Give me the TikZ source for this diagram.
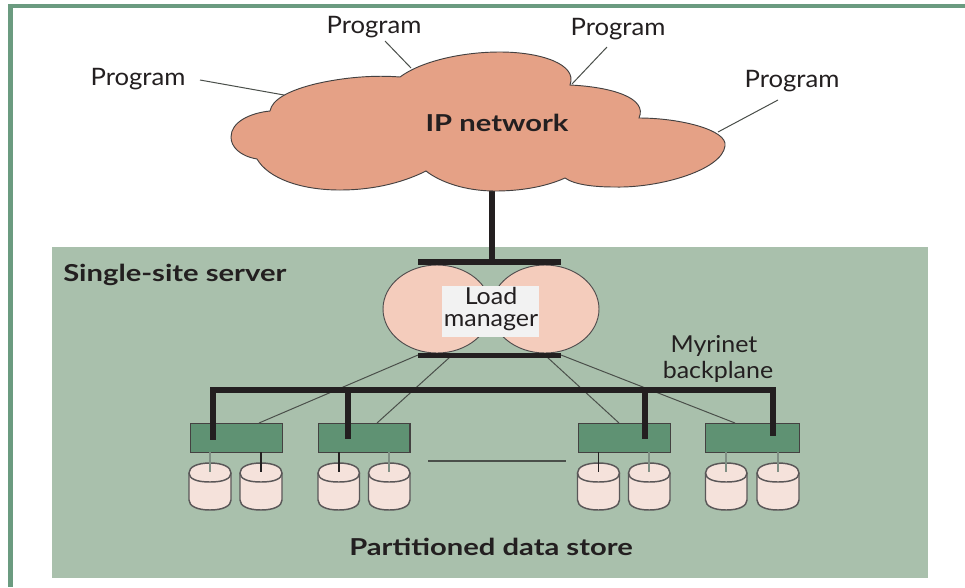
\documentclass[tikz,border=0pt]{standalone}
\usepackage{fontspec}
\setmainfont{Lato}
\newfontfamily\lblfont[FakeStretch=1.07]{Lato}
\newfontfamily\boldfont[FakeStretch=1.25]{Lato}
\definecolor{panelc}{HTML}{A9C0AC}
\definecolor{cloudc}{HTML}{E5A186}
\definecolor{boxc}{HTML}{5F9273}
\definecolor{lobec}{HTML}{F4CCBC}
\definecolor{cylc}{HTML}{F5E2DB}
\definecolor{framec}{HTML}{6B9B80}
\definecolor{inkc}{HTML}{231F20}
\definecolor{thinc}{HTML}{4A4F4A}
\definecolor{stemg}{HTML}{7F8F84}
\newcommand{\cylat}[4]{% left, right, stem colour, name
  \coordinate (#4top) at ({(#1+#2)/2},472);
  \filldraw[cylstyle] (#1,473) -- (#1,500) .. controls (#1,506) and ({#1+8},510) .. ({(#1+#2)/2},510)
    .. controls ({#2-8},510) and (#2,506) .. (#2,500) -- (#2,473)
    .. controls (#2,467) and ({#2-8},463) .. ({(#1+#2)/2},463)
    .. controls ({#1+8},463) and (#1,467) .. (#1,473) -- cycle;
  \draw[cylstyle,fill=none] (#1,473) .. controls (#1,479) and ({#1+8},482) .. ({(#1+#2)/2},482)
    .. controls ({#2-8},482) and (#2,479) .. (#2,473);
  \coordinate (#4up) at ({(#1+#2)/2},452);
  \draw[#3,line width=1.2pt] (#4up) -- (#4top);
}
\tikzset{
  x=0.75pt,y=-0.75pt,
  lbl/.style={font=\fontsize{17.5}{19}\selectfont\lblfont,text=inkc,inner sep=0pt},
  plbl/.style={font=\fontsize{18}{19}\selectfont\lblfont,text=inkc,inner sep=0pt},
  boldlbl/.style={font=\fontsize{17.5}{19}\selectfont\boldfont\bfseries,text=inkc,inner sep=0pt},
  thinline/.style={draw=thinc,line width=0.75pt},
  bar/.style={draw=inkc,line width=4.4pt},
  drop/.style={draw=inkc,line width=4.4pt},
  store/.style={draw=inkc!85,fill=boxc,line width=1pt,minimum height=21.75pt,inner sep=0pt,anchor=north west},
  lobe/.style={draw=inkc!80,fill=lobec,line width=0.7pt},
  cylstyle/.style={draw=inkc!75,fill=cylc,line width=1.1pt},
}
\begin{document}
\begin{tikzpicture}
\useasboundingbox (0,0) rectangle (965,587);
\fill[white] (0,0) rectangle (965,587);
% frame
\fill[framec] (8,4) rectangle (965,8);
\fill[framec] (8,4) rectangle (13,587);
% panel
\fill[panelc] (52,247) rectangle (928,578);
% labels
\node[plbl] (p1) at (138,79) {Program};
\node[plbl] (p2) at (374,27) {Program};
\node[plbl] (p3) at (618,29) {Program};
\node[plbl] (p4) at (792,81) {Program};
\coordinate (p1a) at (200,80); \coordinate (p1b) at (284,95);
\coordinate (p2a) at (385,41); \coordinate (p2b) at (411,68);
\coordinate (p3a) at (607,47); \coordinate (p3b) at (572,84);
\coordinate (p4a) at (778,100); \coordinate (p4b) at (718,132);
\draw[thinline] (p1a) -- (p1b);
\draw[thinline] (p2a) -- (p2b);
\draw[thinline] (p3a) -- (p3b);
\draw[thinline] (p4a) -- (p4b);
% vertical from cloud to top bar
\coordinate (cloudbase) at (492,188);
\coordinate (topmid) at (492,262);
\draw[drop] (cloudbase) -- (topmid);
% cloud
\filldraw[draw=inkc!85,fill=cloudc,line width=0.7pt]
  (270,111) .. controls (272,100) and (287,91) .. (315,84)
  .. controls (345,77) and (375,75) .. (400,77)
  .. controls (420,62) and (460,52) .. (500,52)
  .. controls (540,52) and (578,64) .. (570,85)
  .. controls (612,87) and (648,98) .. (639,118)
  .. controls (680,118) and (728,130) .. (725,146)
  .. controls (722,170) and (660,188) .. (615,187)
  .. controls (595,187) and (575,185) .. (565,178)
  .. controls (545,187) and (520,191) .. (495,191)
  .. controls (465,191) and (440,182) .. (426,171)
  .. controls (400,184) and (370,190) .. (340,190)
  .. controls (300,190) and (268,178) .. (257,159)
  .. controls (240,156) and (231,147) .. (231,137)
  .. controls (231,122) and (250,113) .. (270,111) -- cycle;
\node[boldlbl] (ip) at (497,122.5) {IP network};
\node[boldlbl,anchor=west] (site) at (63,274.5) {Single-site server};
% thin lines load manager to stores
\node[store,minimum width=69pt] (b1) at (190,423) {};
\node[store,minimum width=68.5pt] (b2) at (318,423) {};
\node[store,minimum width=69pt] (b3) at (578,423) {};
\node[store,minimum width=70.5pt] (b4) at (705,423) {};
\coordinate (bL) at (418,355); \coordinate (bLi) at (450,357);
\coordinate (bRi) at (547,357); \coordinate (bR) at (561,355);
\coordinate (t1) at (259,423); \coordinate (t2) at (377,423);
\coordinate (t3) at (619,423); \coordinate (t4) at (735,423);
\draw[thinline] (bL) -- (t1);
\draw[thinline] (bLi) -- (t2);
\draw[thinline] (bRi) -- (t3);
\draw[thinline] (bR) -- (t4);
% lobes
\draw[lobe] (437,309) ellipse [x radius=54,y radius=44];
\draw[lobe] (545,309) ellipse [x radius=54,y radius=44];
\node[fill=white!95!black,minimum width=72.75pt,minimum height=38.25pt,inner sep=0pt] (lm) at (490.5,311.5) {};
\node[lbl] (lm1) at (491,295.5) {Load};
\node[lbl] (lm2) at (491,323) {manager};
% bars
\coordinate (tl) at (418,262); \coordinate (tr) at (561,262);
\coordinate (ml) at (418,355.5); \coordinate (mr) at (561,355.5);
\draw[bar] (tl) -- (tr);
\draw[bar] (ml) -- (mr);
% backplane
\coordinate (d1) at (213,440); \coordinate (d2) at (348,439);
\coordinate (d3) at (645,439); \coordinate (d4) at (773,436);
\coordinate (h1) at (213,390); \coordinate (h2) at (348,390);
\coordinate (h3) at (645,390); \coordinate (h4) at (773,390);
\draw[bar,line cap=rect] (h1) -- (h4);
\draw[drop] (h1) -- (d1);
\draw[drop] (h2) -- (d2);
\draw[drop] (h3) -- (d3);
\draw[drop] (h4) -- (d4);
\node[lbl] (my1) at (714,346) {Myrinet};
\node[lbl] (my2) at (718,372) {backplane};
% ellipsis line
\coordinate (ea) at (428,461); \coordinate (eb) at (566,461);
\draw[draw=thinc,line width=0.9pt] (ea) -- (eb);
% cylinders
\cylat{189}{231}{stemg}{c1}
\cylat{240}{282}{inkc}{c2}
\cylat{318}{359.5}{inkc}{c3}
\cylat{368.5}{410}{stemg}{c4}
\cylat{577.5}{619.5}{inkc}{c5}
\cylat{628.5}{670}{stemg}{c6}
\cylat{705.5}{747}{stemg}{c7}
\cylat{757}{799}{stemg}{c8}
\node[boldlbl] (pds) at (491,547) {Partitioned data store};
\end{tikzpicture}
\end{document}
